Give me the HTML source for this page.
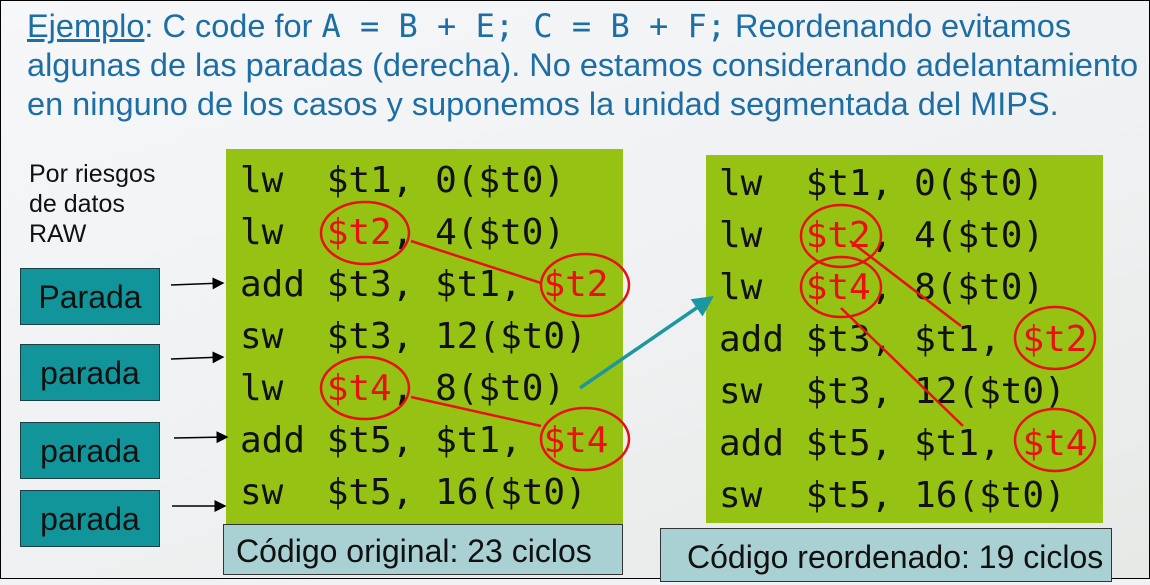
<!DOCTYPE html>
<html><head><meta charset="utf-8"><style>
body{margin:0;width:1150px;height:579px;overflow:hidden;background:#f1f2f4;font-family:"Liberation Sans",sans-serif;}
#f{position:absolute;left:0;top:0;width:1148px;height:577px;border:1px solid #000;background:linear-gradient(160deg,#f6f7f9 0%,#eef0f1 60%,#e6e9e6 100%);}
.t{position:absolute;left:26px;color:#1c6ea4;font-size:32.5px;white-space:nowrap;}
.m{font-family:"DejaVu Sans Mono","Liberation Mono",monospace;font-size:32px;}
.g{position:absolute;background:#95c213;}
.c{position:absolute;font-family:"DejaVu Sans Mono","Liberation Mono",monospace;font-size:36px;color:#111;white-space:pre;line-height:52px;}
.r{color:#e81010}
.p{position:absolute;left:19px;width:138px;height:55px;background:#11959a;border:1px solid #1d3f44;font-size:32px;color:#111;text-align:center;line-height:57px;}
.cap{position:absolute;background:#a9d0d3;border:1px solid #333;font-size:32px;color:#111;white-space:nowrap;}
</style></head><body><div id="f">
<div class="t" style="top:6px"><u>Ejemplo</u>: C code for <span class="m">A = B + E; C = B + F;</span> Reordenando evitamos</div>
<div class="t" style="top:46px">algunas de las paradas (derecha). No estamos considerando adelantamiento</div>
<div class="t" style="top:85px">en ninguno de los casos y suponemos la unidad segmentada del MIPS.</div>
<div style="position:absolute;left:28px;top:158px;font-size:25px;line-height:30px;color:#111">Por riesgos<br>de datos<br>RAW</div>
<div class="g" style="left:225px;top:148px;width:397px;height:375px"></div>
<div class="g" style="left:705px;top:154px;width:397px;height:368px"></div>
<div class="c" style="left:239px;top:154px">lw  $t1, 0($t0)
lw  <span class="r">$t2</span>, 4($t0)
add $t3, $t1, <span class="r">$t2</span>
sw  $t3, 12($t0)
lw  <span class="r">$t4</span>, 8($t0)
add $t5, $t1, <span class="r">$t4</span>
sw  $t5, 16($t0)</div>
<div class="c" style="left:718px;top:157px">lw  $t1, 0($t0)
lw  <span class="r">$t2</span>, 4($t0)
lw  <span class="r">$t4</span>, 8($t0)
add $t3, $t1, <span class="r">$t2</span>
sw  $t3, 12($t0)
add $t5, $t1, <span class="r">$t4</span>
sw  $t5, 16($t0)</div>
<div class="p" style="top:267px">Parada</div>
<div class="p" style="top:343px">parada</div>
<div class="p" style="top:421px">parada</div>
<div class="p" style="top:489px">parada</div>
<div class="cap" style="left:222px;top:523px;width:398px;height:49px;line-height:52px;text-indent:12px">Código original: 23 ciclos</div>
<div class="cap" style="left:659px;top:527px;width:450px;height:52px;line-height:56px;text-indent:26px">Código reordenado: 19 ciclos</div>
<svg width="1150" height="579" style="position:absolute;left:0;top:0">
<defs><marker id="a" markerWidth="8" markerHeight="8" refX="7" refY="4" orient="auto"><path d="M0,0L8,4L0,8z" fill="#000"/></marker>
<marker id="b" markerWidth="6" markerHeight="6" refX="5" refY="3" orient="auto"><path d="M0,0L6,3L0,6z" fill="#1c97a0"/></marker></defs>
<g stroke="#000" stroke-width="1.5" marker-end="url(#a)">
<line x1="170" y1="284" x2="222" y2="282"/><line x1="170" y1="358" x2="222" y2="356"/>
<line x1="173" y1="437" x2="226" y2="436"/><line x1="171" y1="505" x2="224" y2="505"/></g>
<line x1="579" y1="387" x2="710" y2="297" stroke="#1c97a0" stroke-width="3.5" marker-end="url(#b)"/>
<g fill="none" stroke="#e81010" stroke-width="2.5">
<ellipse cx="364" cy="232" rx="44" ry="31"/><ellipse cx="584" cy="284" rx="44" ry="31"/>
<ellipse cx="364" cy="387" rx="44" ry="31"/><ellipse cx="584" cy="438" rx="44" ry="31"/>
<line x1="410" y1="240" x2="540" y2="282"/><line x1="410" y1="396" x2="540" y2="425"/>
<ellipse cx="840" cy="235" rx="40" ry="31"/><ellipse cx="840" cy="286" rx="40" ry="30"/>
<ellipse cx="1054" cy="337" rx="40" ry="31"/><ellipse cx="1054" cy="439" rx="40" ry="31"/>
<line x1="849" y1="240" x2="960" y2="325"/><line x1="840" y1="307" x2="962" y2="425"/>
</g></svg>
</div></body></html>
